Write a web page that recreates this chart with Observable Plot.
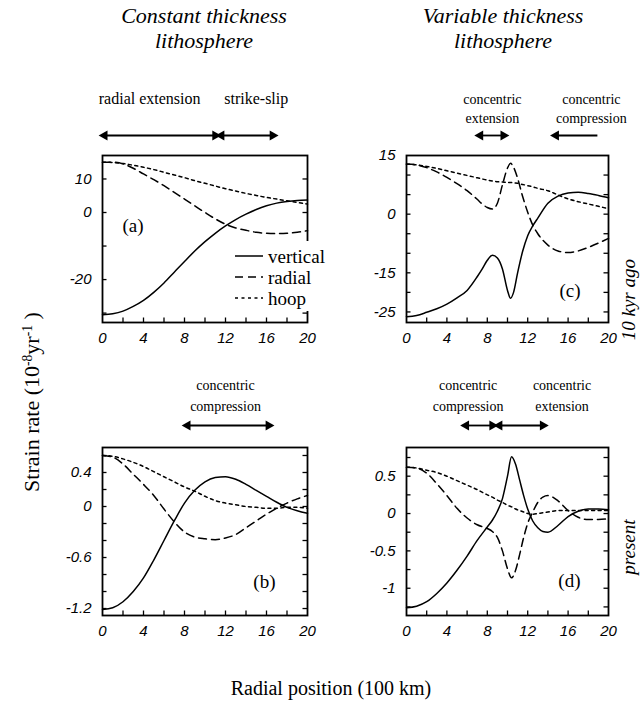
<!DOCTYPE html>
<html><head><meta charset="utf-8">
<script src="https://cdn.jsdelivr.net/npm/d3@7"></script>
<script src="https://cdn.jsdelivr.net/npm/@observablehq/plot@0.6"></script>
<style>
body{margin:0;background:#fff}
#wrap{position:relative;width:642px;height:709px;overflow:hidden;background:#fff;font-family:"Liberation Serif","Times New Roman",serif;color:#000}
.abs{position:absolute;white-space:nowrap}
sup{font-size:0.62em;vertical-align:0.55em;line-height:0}
</style></head><body><div id="wrap"></div>
<script>
// ---------- data ----------
const xAB = [0,1,2,3,4,5,6,7,8,9,10,11,12,13,14,15,16,17,18,19,20];
// panel (a) constant thickness, 10 kyr ago
const verticalA = [-30.5,-30.2,-29.4,-28,-26.2,-23.8,-21,-17.8,-14.6,-11.5,-8.7,-6.2,-4,-2.1,-0.5,0.9,2,2.8,3.3,3.6,3.7];
const radialA   = [15,15,14.5,13.2,11.5,9.8,8,6,4,2,0,-1.9,-3.5,-4.6,-5.3,-5.9,-6.2,-6.3,-6.2,-5.9,-5.4];
const hoopA     = [15,14.9,14.6,14.1,13.5,12.8,12,11.2,10.4,9.5,8.7,7.9,7.1,6.4,5.7,5.1,4.5,4,3.5,3,2.5];
// panel (b) constant thickness, present
const verticalB = [-1.21,-1.19,-1.12,-1.0,-0.84,-0.63,-0.4,-0.17,0.04,0.19,0.29,0.34,0.35,0.32,0.26,0.19,0.12,0.05,-0.01,-0.05,-0.08];
const radialB   = [0.6,0.58,0.5,0.38,0.26,0.13,-0.03,-0.18,-0.3,-0.36,-0.38,-0.39,-0.37,-0.33,-0.25,-0.17,-0.09,-0.02,0.04,0.09,0.13];
const hoopB     = [0.6,0.59,0.56,0.52,0.47,0.41,0.35,0.29,0.23,0.18,0.12,0.07,0.04,0.02,0,-0.01,-0.02,-0.02,-0.01,-0.01,-0.02];
// panel (c) variable thickness, 10 kyr ago
const xC = [0,1,2,3,4,5,6,7,7.5,8,8.5,9,9.5,10,10.3,10.6,11,11.5,12,12.5,13,14,15,16,17,18,19,20];
const verticalC = [-26.2,-25.9,-25.1,-24.2,-23,-21.4,-19.5,-16,-14,-11.8,-10.5,-11.2,-14,-19.5,-21.5,-20,-15,-9.5,-5.5,-3,-1,2.8,4.6,5.4,5.6,5.3,4.8,4.2];
const radialC   = [12.8,12.6,11.9,10.8,9.4,7.8,6,3.8,2.6,1.7,1.3,2.8,7.5,11.8,13,12,9.2,4.5,0.5,-2.8,-5,-7.9,-9.4,-9.8,-9.4,-8.5,-7.4,-6.2];
const hoopC     = [12.8,12.6,12.2,11.7,11.1,10.5,9.9,9.3,9,8.7,8.5,8.3,8.2,8.1,8.1,8.0,7.9,7.6,7.3,7,6.6,6,4.9,3.9,3.2,2.6,2,1.4];
// panel (d) variable thickness, present
const xD = [0,1,2,3,4,5,6,7,8,8.5,9,9.5,10,10.4,10.8,11.2,11.6,12,12.5,13,13.5,14,15,16,17,18,19,20];
const verticalD = [-1.26,-1.24,-1.18,-1.07,-0.93,-0.76,-0.57,-0.36,-0.18,-0.09,0.03,0.2,0.5,0.76,0.66,0.45,0.24,0.06,-0.1,-0.19,-0.24,-0.25,-0.16,-0.04,0.03,0.06,0.06,0.05];
const radialD   = [0.62,0.61,0.54,0.4,0.24,0.07,-0.06,-0.15,-0.2,-0.24,-0.32,-0.5,-0.74,-0.86,-0.76,-0.55,-0.32,-0.13,0.02,0.15,0.22,0.24,0.17,0.04,-0.05,-0.08,-0.08,-0.07];
const hoopD     = [0.62,0.61,0.58,0.55,0.5,0.44,0.38,0.32,0.25,0.22,0.18,0.15,0.11,0.09,0.06,0.04,0.02,0,-0.01,0,0.01,0.02,0.04,0.04,0.04,0.04,0.04,0.04];

// ticks
const xTickMinor = [2,4,6,8,10,12,14,16,18];
const xTickLabels = [0,4,8,12,16,20];
const yTicksA = [-30,-20,-10,0,10];       const yLabelsA = [-20,0,10];
const yTicksB = [-1.2,-1,-0.8,-0.6,-0.4,-0.2,0,0.2,0.4,0.6]; const yLabelsB = [-1.2,-0.6,0,0.4];
const yTicksC = [-25,-20,-15,-10,-5,0,5,10]; const yLabelsC = [-25,-15,0,15];
const yTicksD = [-1.25,-1,-0.75,-0.5,-0.25,0,0.25,0.5,0.75]; const yLabelsD = [-1,-0.5,0,0.5];

// header annotations (x in radial position units)
const headTextsA = [{x:4.6, text:"radial extension", size:16}, {x:15.0, text:"strike-slip", size:16}];
const headArrowsA = [{x1:0.2, x2:11.0, left:true, right:true}, {x1:11.6, x2:16.6, left:true, right:true}];
const headTextsC = [{x:8.5, text:"concentric\nextension", size:14}, {x:18.3, text:"concentric\ncompression", size:14}];
const headArrowsC = [{x1:7.3, x2:9.6, left:true, right:true}, {x1:14.8, x2:18.9, left:true, right:false}];
const headTextsB = [{x:12, text:"concentric\ncompression", size:14}];
const headArrowsB = [{x1:8.3, x2:16.2, left:true, right:true}];
const headTextsD = [{x:6.1, text:"concentric\ncompression", size:14}, {x:15.4, text:"concentric\nextension", size:14}];
const headArrowsD = [{x1:5.9, x2:8.5, left:true, right:true}, {x1:9.2, x2:13.5, left:true, right:true}];

const seriesNames = ["vertical","radial","hoop"];
const dashes = {vertical: null, radial: "8,5", hoop: "3,3.5"};

// ---------- drawing ----------
const SERIF = '"Liberation Serif","Times New Roman",serif';
const SANS = '"Liberation Sans",Arial,sans-serif';
const wrap = document.getElementById("wrap");
const fmt = d => (d < 0 ? "-" : "") + Math.abs(d);
const TICK = 4.5; // tick length in pixels

function place(el, left, top) {
  el.style.position = "absolute"; el.style.left = left + "px"; el.style.top = top + "px";
  wrap.appendChild(el);
}

function panel(cfg) {
  const {left, top, fl, fr, ft, fb} = cfg.geo;
  const mL = fl - left, mT = ft - top, mR = cfg.mR, mB = 34;
  const [y0, y1] = cfg.yDomain;
  const dyTick = TICK * (y1 - y0) / (fb - ft);   // tick length in y units
  const dxTick = TICK * 20 / (fr - fl);          // tick length in x units
  const rows = (name, ys) => cfg.x.map((x, i) => ({x, y: ys[i], series: name}));
  const lines = seriesNames.map(n => Plot.line(rows(n, cfg[n]), {
    x: "x", y: "y", stroke: "black", strokeWidth: 1.5, curve: "monotone-x",
    strokeDasharray: dashes[n] || undefined
  }));
  const tk = {stroke: "black", strokeWidth: 1.3};
  const marks = [
    ...lines,
    Plot.ruleX(xTickMinor, {x: d => d, y1: y0, y2: y0 + dyTick, ...tk}),
    Plot.ruleY(cfg.yTicks, {y: d => d, x1: 0, x2: dxTick, ...tk}),
    Plot.ruleY(cfg.yTicks, {y: d => d, x1: 20 - dxTick, x2: 20, ...tk}),
    Plot.frame({stroke: "black", strokeWidth: 1.8}),
    Plot.axisX({ticks: xTickLabels, tickSize: 0, tickPadding: 10, label: null, tickFormat: fmt,
      fontSize: 15, fontStyle: "italic", fontFamily: SANS}),
    Plot.axisY({ticks: cfg.yLabels, tickSize: 0, tickPadding: 11, label: null, tickFormat: fmt,
      fontSize: 15, fontStyle: "italic", fontFamily: SANS}),
    Plot.text([cfg.letter], {text: d => d, frameAnchor: cfg.letterAnchor, dx: cfg.letterDx, dy: cfg.letterDy,
      fontSize: 19, fontFamily: SERIF, fill: "black"})
  ];
  if (cfg.side) marks.push(Plot.text([cfg.side], {text: d => d, frameAnchor: "right", dx: cfg.sideDx, dy: cfg.sideDy,
    rotate: -90, fontSize: 19, fontStyle: "italic", fontFamily: SERIF, fill: "black"}));
  const p = Plot.plot({
    width: (fr - left) + mR, height: (fb - top) + mB,
    marginLeft: mL, marginTop: mT, marginRight: mR, marginBottom: mB,
    x: {domain: [0, 20]}, y: {domain: cfg.yDomain},
    style: {background: "transparent", overflow: "visible", color: "black"},
    marks
  });
  place(p, left, top);
}

function header(cfg) {
  const {left, top, fl, fr, row0, row2} = cfg;
  const mL = fl - left, mT = row0 - top, mB = 10, mR = 10;
  const heads = [];
  cfg.arrows.forEach(a => { if (a.left) heads.push({x: a.x1, rot: -90}); if (a.right) heads.push({x: a.x2, rot: 90}); });
  const pitch = (row2 - row0) / 2;
  const p = Plot.plot({
    width: (fr - left) + mR, height: (row2 - top) + mB,
    marginLeft: mL, marginTop: mT, marginRight: mR, marginBottom: mB,
    x: {domain: [0, 20], axis: null}, y: {domain: [0, 2], reverse: true, axis: null},
    style: {background: "transparent", overflow: "visible", color: "black"},
    marks: [
      ...cfg.texts.map(t => Plot.text([t], {x: "x", y: d => (d.text.split("\n").length - 1) / 2, text: "text",
        lineAnchor: "middle", lineHeight: pitch / t.size, fontSize: t.size, fontFamily: SERIF, fill: "black"})),
      Plot.link(cfg.arrows, {x1: "x1", x2: "x2", y1: () => 2, y2: () => 2, stroke: "black", strokeWidth: 1.8}),
      Plot.dot(heads, {x: "x", y: () => 2, symbol: "triangle", r: 3.8, rotate: "rot", fill: "black", stroke: "none"})
    ]
  });
  place(p, left, top);
}

const geoA = {left: 50, top: 145, fl: 102, fr: 307, ft: 155, fb: 322};
const geoB = {left: 50, top: 437, fl: 102, fr: 307, ft: 447, fb: 615};
const geoC = {left: 354, top: 145, fl: 406, fr: 608, ft: 155, fb: 322};
const geoD = {left: 354, top: 437, fl: 406, fr: 608, ft: 447, fb: 615};

panel({geo: geoA, mR: 13, x: xAB, vertical: verticalA, radial: radialA, hoop: hoopA, yDomain: [-32.8, 17],
  yTicks: yTicksA, yLabels: yLabelsA, letter: "(a)", letterAnchor: "top-left", letterDx: 20, letterDy: 63});
panel({geo: geoB, mR: 13, x: xAB, vertical: verticalB, radial: radialB, hoop: hoopB, yDomain: [-1.282, 0.694],
  yTicks: yTicksB, yLabels: yLabelsB, letter: "(b)", letterAnchor: "bottom-right", letterDx: -32, letterDy: -28});
panel({geo: geoC, mR: 34, x: xC, vertical: verticalC, radial: radialC, hoop: hoopC, yDomain: [-27.7, 15],
  yTicks: yTicksC, yLabels: yLabelsC, letter: "(c)", letterAnchor: "bottom-right", letterDx: -28, letterDy: -26,
  side: "10 kyr ago", sideDx: 20, sideDy: 20});
panel({geo: geoD, mR: 34, x: xD, vertical: verticalD, radial: radialD, hoop: hoopD, yDomain: [-1.365, 0.884],
  yTicks: yTicksD, yLabels: yLabelsD, letter: "(d)", letterAnchor: "bottom-right", letterDx: -28, letterDy: -29,
  side: "present", sideDx: 20, sideDy: -12});

header({left: 50, top: 80, fl: 102, fr: 307, row0: 97, row2: 135, texts: headTextsA, arrows: headArrowsA});
header({left: 354, top: 80, fl: 406, fr: 608, row0: 97, row2: 135, texts: headTextsC, arrows: headArrowsC});
header({left: 50, top: 366, fl: 102, fr: 307, row0: 383, row2: 425, texts: headTextsB, arrows: headArrowsB});
header({left: 354, top: 366, fl: 406, fr: 608, row0: 383, row2: 425, texts: headTextsD, arrows: headArrowsD});

// titles
function html(htmlStr, css) {
  const d = document.createElement("div"); d.className = "abs"; d.innerHTML = htmlStr;
  Object.assign(d.style, css); wrap.appendChild(d); return d;
}
html("Constant thickness<br>lithosphere", {left: "84px", top: "3px", width: "240px", textAlign: "center",
  fontStyle: "italic", fontSize: "22px", lineHeight: "25px"});
html("Variable thickness<br>lithosphere", {left: "383px", top: "3px", width: "240px", textAlign: "center",
  fontStyle: "italic", fontSize: "22px", lineHeight: "25px"});
html("Strain rate (10<sup>-8</sup>yr<sup>-1</sup> )", {left: "-118px", top: "388px", width: "300px", height: "28px",
  lineHeight: "28px", textAlign: "center", fontSize: "22px", transform: "rotate(-90deg)", transformOrigin: "50% 50%"});
html("Radial position (100 km)", {left: "181px", top: "675px", width: "300px", textAlign: "center",
  fontSize: "20px", lineHeight: "26px"});

// legend for panel (a)
const leg = document.createElementNS("http://www.w3.org/2000/svg", "svg");
leg.setAttribute("width", 130); leg.setAttribute("height", 70);
const legRows = seriesNames.map((n, i) => `
  <line x1="4" x2="32" y1="${15 + i * 21}" y2="${15 + i * 21}" stroke="black" stroke-width="1.5" ${dashes[n] ? `stroke-dasharray="${dashes[n]}"` : ""}/>
  <text x="37" y="${15 + i * 21}" dy="0.35em" font-family='${SERIF}' font-size="19">${n}</text>`).join("");
leg.innerHTML = `<rect width="130" height="70" fill="white"/>${legRows}`;
place(leg, 231, 241);
</script></body></html>
